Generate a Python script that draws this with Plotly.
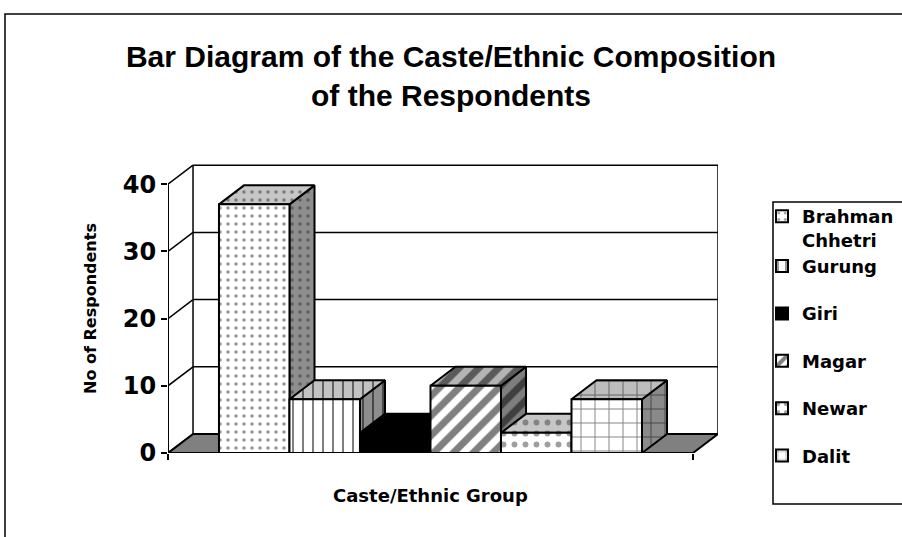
import plotly.graph_objects as go

# ---- data ----
groups = ["Brahman Chhetri", "Gurung", "Giri", "Magar", "Newar", "Dalit"]
legend_labels = ["Brahman<br>Chhetri", "Gurung", "Giri", "Magar", "Newar", "Dalit"]
respondents = [37, 8, 3, 10, 3, 8]
y_ticks = [0, 10, 20, 30, 40]

# ---- per-group fill styles: front face, top face, side face ----
front_bg = ["white", "white", "black", "white", "white", "white"]
top_bg = ["#c6c6c6", "#c2c2c2", "black", "#b4b4b4", "#c6c6c6", "#bdbdbd"]
side_bg = ["#8e8e8e", "#8e8e8e", "black", "#7e7e7e", "#8e8e8e", "#8a8a8a"]
pat_shape = [".", "|", "", "/", ".", "+"]
pat_size = [8, 10, 8, 14, 11, 14]
pat_solid = [0.16, 0.2, 0.3, 0.5, 0.22, 0.13]
pat_fg = ["#303030", "black", "black", "black", "#404040", "black"]
legend_group = ["a", "a", "b", "c", "d", "e"]

# ---- pseudo-3D geometry, in axis units ----
BAR_W = 1.0          # width of one column
PAD = 0.723          # floor margin left/right of the column row
DX = 0.355           # depth shift along x
DY = 2.825           # depth shift along y
Y_TOP = 43

x_lo = -PAD
x_front_hi = len(groups) * BAR_W + PAD
x_hi = x_front_hi + DX

# ---- page layout in pixels ----
W, H = 902, 537
ML, MR, MT, MB = 168, 184, 164, 84
PW, PH = W - ML - MR, H - MT - MB


def px(xp):
    return (xp - ML) / PW


def py(yp):
    return (H - MB - yp) / PH


FONT_AXIS = "DejaVu Sans"
FONT_TITLE = "Liberation Sans, Arial, sans-serif"

fig = go.Figure()

for i, (name, v) in enumerate(zip(groups, respondents)):
    left = i * BAR_W
    right = left + BAR_W
    pattern = dict(shape=pat_shape[i], size=pat_size[i], solidity=pat_solid[i],
                   fgcolor=pat_fg[i])

    # right-hand side face
    fig.add_trace(go.Scatter(
        x=[right, right + DX, right + DX, right, right],
        y=[0, DY, v + DY, v, 0],
        mode="lines", fill="toself", fillcolor=side_bg[i],
        fillpattern=dict(pattern, bgcolor=side_bg[i]),
        line=dict(color="black", width=2),
        showlegend=False, hoverinfo="skip", zorder=3 * i,
    ))
    # top face
    fig.add_trace(go.Scatter(
        x=[left, right, right + DX, left + DX, left],
        y=[v, v, v + DY, v + DY, v],
        mode="lines", fill="toself", fillcolor=top_bg[i],
        fillpattern=dict(pattern, bgcolor=top_bg[i]),
        line=dict(color="black", width=2),
        showlegend=False, hoverinfo="skip", zorder=3 * i + 1,
    ))
    # front face (legend entry)
    fig.add_trace(go.Bar(
        x=[left + BAR_W / 2], y=[v], width=[BAR_W],
        name=legend_labels[i], legendgroup=legend_group[i],
        marker=dict(color=front_bg[i], line=dict(color="black", width=2),
                    pattern=dict(pattern, bgcolor=front_bg[i])),
        zorder=3 * i + 2,
    ))

# ---- floor, back wall and gridlines ----
shapes = []
line_k = dict(color="black", width=1.5)
shapes.append(dict(
    type="path", xref="x", yref="y", layer="below",
    path=f"M{x_lo},0 L{x_front_hi},0 L{x_hi},{DY} L{x_lo + DX},{DY} Z",
    fillcolor="#808080", line=dict(color="black", width=2),
))
for t in y_ticks:
    # slanted connector from the front axis to the back wall
    shapes.append(dict(type="line", xref="x", yref="y", layer="below",
                       x0=x_lo, y0=t, x1=x_lo + DX, y1=t + DY, line=line_k))
    if t > 0:
        shapes.append(dict(type="line", xref="x", yref="y", layer="below",
                           x0=x_lo + DX, y0=t + DY, x1=x_hi, y1=t + DY, line=line_k))
# back-wall verticals and front value axis
shapes.append(dict(type="line", xref="x", yref="y", layer="below",
                   x0=x_lo + DX, y0=DY, x1=x_lo + DX, y1=y_ticks[-1] + DY, line=line_k))
shapes.append(dict(type="line", xref="x", yref="y", layer="below",
                   x0=x_hi, y0=DY, x1=x_hi, y1=y_ticks[-1] + DY, line=line_k))
shapes.append(dict(type="line", xref="x", yref="y", layer="below",
                   x0=x_lo, y0=0, x1=x_lo, y1=y_ticks[-1], line=dict(color="black", width=2)))

# chart-area frame and legend frame
shapes.append(dict(type="rect", xref="paper", yref="paper",
                   x0=px(5), y0=py(545), x1=px(912), y1=py(14),
                   line=dict(color="black", width=1.5)))
shapes.append(dict(type="rect", xref="paper", yref="paper",
                   x0=px(773), y0=py(504), x1=px(912), y1=py(202),
                   line=dict(color="black", width=1.5)))

fig.update_layout(
    width=W, height=H,
    margin=dict(l=ML, r=MR, t=MT, b=MB, pad=0, autoexpand=False),
    paper_bgcolor="white", plot_bgcolor="rgba(0,0,0,0)",
    barmode="overlay",
    shapes=shapes,
    title=dict(
        text="Bar Diagram of the Caste/Ethnic Composition<br>of the Respondents",
        font=dict(family=FONT_TITLE, size=30, color="black", weight="bold"),
        x=0.5, xref="container", xanchor="center",
        y=1 - 67 / H, yref="container", yanchor="top",
    ),
    xaxis=dict(
        range=[x_lo, x_hi], showgrid=False, zeroline=False, showline=False,
        tickvals=[x_lo, x_front_hi], ticks="outside", ticklen=6, tickwidth=2,
        tickcolor="black", showticklabels=False, fixedrange=True,
    ),
    yaxis=dict(
        range=[0, Y_TOP], showgrid=False, zeroline=False, showline=False,
        tickvals=y_ticks, ticks="outside", ticklen=6, tickwidth=2, tickcolor="black",
        tickfont=dict(family=FONT_AXIS, size=24, color="black", weight="bold"),
        title=dict(text="No of Respondents", standoff=22,
                   font=dict(family=FONT_AXIS, size=16, color="black", weight="bold")),
        fixedrange=True,
    ),
    legend=dict(
        x=px(762), y=py(198), xanchor="left", yanchor="top",
        font=dict(family=FONT_AXIS, size=18, color="black", weight="bold"),
        bgcolor="rgba(0,0,0,0)", borderwidth=0, tracegroupgap=21, valign="top",
        traceorder="grouped",
    ),
    annotations=[dict(
        text="Caste/Ethnic Group", xref="x", yref="paper",
        x=(x_lo + x_front_hi) / 2, y=py(495), xanchor="center", yanchor="middle",
        showarrow=False,
        font=dict(family=FONT_AXIS, size=18, color="black", weight="bold"),
    )],
    showlegend=True,
)

fig.write_html("out.html")
